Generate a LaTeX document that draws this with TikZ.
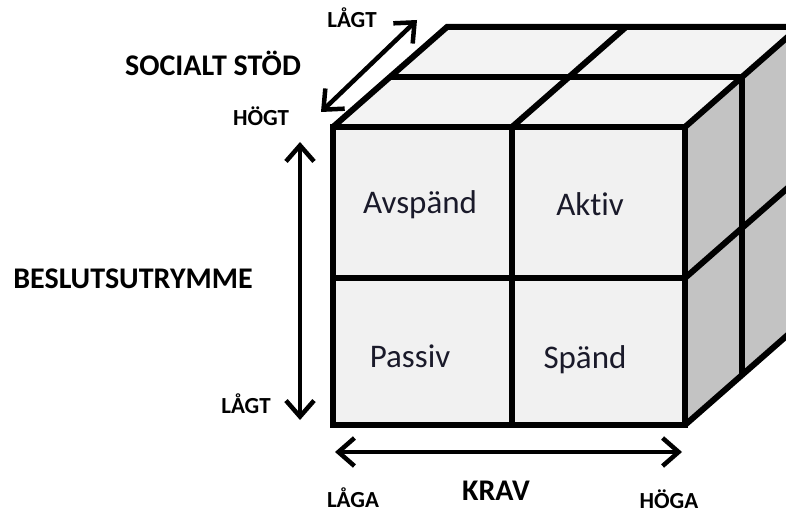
\documentclass[tikz,border=0pt]{standalone}
\usepackage{fontspec}
\setmainfont{Carlito}[Ligatures={NoCommon,NoRequired,NoContextual}]
\usetikzlibrary{arrows.meta}
\definecolor{facefront}{HTML}{F1F1F1}
\definecolor{facetop}{HTML}{F3F3F3}
\definecolor{faceside}{HTML}{C3C3C3}
\definecolor{celltext}{HTML}{1A1A2A}
\tikzset{
  edge/.style={line width=6pt, line join=miter},
  axis/.style={line width=4.5pt, {Straight Barb[length=16pt,width=28pt,line width=4.5pt]}-{Straight Barb[length=16pt,width=28pt,line width=4.5pt]}},
  lab/.style={font=\bfseries\fontsize{23}{25}\selectfont, inner sep=0pt, anchor=base},
  biglab/.style={font=\bfseries\fontsize{30}{32}\selectfont, inner sep=0pt, anchor=base},
  cell/.style={font=\fontsize{33}{36}\selectfont, text=celltext, inner sep=0pt, anchor=base}
}
\begin{document}
\begin{tikzpicture}[x=1pt,y=-1pt]
\useasboundingbox (0,0) rectangle (786,513);
\begin{scope}
\clip (0,0) rectangle (786,513);
% cube corners
\coordinate (FTL) at (333,127);
\coordinate (FTR) at (685,127);
\coordinate (FBL) at (333,425);
\coordinate (FBR) at (685,425);
\coordinate (BTL) at (447,27);
\coordinate (BTR) at (799,27);
\coordinate (BBR) at (799,325);
% faces
\fill[facetop] (FTL) -- (FTR) -- (BTR) -- (BTL) -- cycle;
\fill[faceside] (FTR) -- (BTR) -- (BBR) -- (FBR) -- cycle;
\fill[facefront] (FTL) rectangle (FBR);
% top face lines
\draw[edge] (FTL) -- (BTL) -- (BTR);
\draw[edge] (390,77) -- (742,77);
\draw[edge] (512,127) -- (626,27);
% right face lines
\draw[edge] (FTR) -- (BTR);
\draw[edge] (FBR) -- (BBR);
\draw[edge] (742,77) -- (742,375);
\draw[edge] (685,278) -- (799,178);
% front face
\draw[edge] (FTL) rectangle (FBR);
\draw[edge] (512,127) -- (512,425);
\draw[edge] (333,278) -- (685,278);
\end{scope}
% cell labels
\node[cell] (avs) at (420,213) {Avspänd};
\node[cell] (akt) at (590,215) {Aktiv};
\node[cell] (pas) at (410,367) {Passiv};
\node[cell] (spa) at (585,368) {Spänd};
% axes
\coordinate (s1) at (321,112);
\coordinate (s2) at (417,20);
\draw[axis] (s1) -- (s2);
\coordinate (v1) at (300,142);
\coordinate (v2) at (300,420);
\draw[axis] (v1) -- (v2);
\coordinate (h1) at (335,452);
\coordinate (h2) at (682,452);
\draw[axis] (h1) -- (h2);
% labels
\node[lab] (lagt1) at (352,28) {LÅGT};
\node[biglab] (soc) at (213,76) {SOCIALT STÖD};
\node[lab] (hogt) at (261,126) {HÖGT};
\node[biglab] (besl) at (133,288) {BESLUTSUTRYMME};
\node[lab] (lagt2) at (246,413) {LÅGT};
\node[lab] (laga) at (353,507) {LÅGA};
\node[font=\bfseries\fontsize{30}{32}\selectfont, inner sep=0pt, anchor=base] (krav) at (496,500) {KRAV};
\node[lab] (hoga) at (669,508) {HÖGA};
\end{tikzpicture}
\end{document}
